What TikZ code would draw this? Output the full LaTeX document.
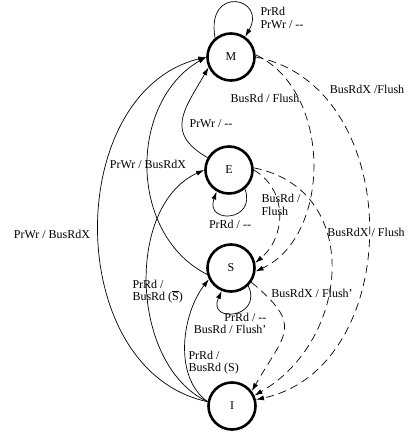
\documentclass[tikz,border=0pt]{standalone}
\usepackage{fontspec}
\setmainfont{Liberation Serif}
\usetikzlibrary{arrows.meta}

\begin{document}
\begin{tikzpicture}[x=1pt,y=1pt,>={Latex[length=8pt,width=5pt]},
  font=\fontsize{12}{12.5}\selectfont,
  state/.style={circle,draw,line width=2.6pt,minimum size=47pt,inner sep=0pt},
  move/.style={->,line width=0.7pt},
  snoop/.style={->,line width=0.7pt,dash pattern=on 8pt off 5pt}]
\useasboundingbox (0,0) rectangle (415,432);
% states
\node[state] (M) at (231,375) {M};
\node[state] (E) at (229,262) {E};
\node[state] (S) at (231,164) {S};
\node[state] (I) at (232,26) {I};
% processor side
\draw[move] (M.130) .. controls +(100:55) and +(60:45) .. (M.55);
\node[anchor=west,align=left] (lMM) at (257,414) {PrRd\\PrWr / {-}{-}};
\draw[move] (E.150) to[out=150,in=240,looseness=1.4] (M.205);
\node (lEM) at (211,308) {PrWr / {-}{-}};
\draw[move] (S.195) to[out=153,in=210,looseness=1.05] (M.180);
\node (lSM) at (148,268) {PrWr / BusRdX};
\draw[move] (I.170) to[out=168,in=194,looseness=1.1] (M.180);
\node (lIM) at (52,198) {PrWr / BusRdX};
\draw[move] (I.170) to[out=155,in=204,looseness=0.95] (E.180);
\node[anchor=west,align=left] (lIE) at (129,140.5)
  {PrRd /\\BusRd ($\overline{\mbox{S}}$)};
\draw[move] (I.170) to[out=144,in=232,looseness=0.9] (S.207);
\node[anchor=west,align=left] (lIS) at (185,69.5) {PrRd /\\BusRd (S)};
\draw[move] (E.310) .. controls +(-70:35) and +(-110:35) .. (E.240);
\node (lEE) at (230,208) {PrRd / {-}{-}};
\draw[move] (S.314) .. controls +(-65:36) and +(-115:36) .. (S.248);
\node[anchor=east,align=right] (lSS) at (270,108.5)
  {PrRd / {-}{-}\\BusRd / Flush'};
% bus side
\draw[snoop] (M.5) to[out=-25,in=25] (S.-8);
\node (lMS) at (265,334) {BusRd / Flush};
\draw[snoop] (M.0) to[out=-11,in=12,looseness=1.15] (I.15);
\node (lMI) at (367,343) {BusRdX /Flush};
\draw[snoop] (E.0) to[out=-30,in=40,looseness=1.1] (S.12);
\node[anchor=west,align=left] (lES) at (258,227) {BusRd /\\Flush};
\draw[snoop] (E.5) to[out=-11,in=30,looseness=1.25] (I.25);
\node (lEI) at (366,200) {BusRdX / Flush};
\draw[snoop] (S.-35) to[out=-40,in=60,looseness=1.6] (I.37);
\node (lSI) at (312,139) {BusRdX / Flush'};
\end{tikzpicture}
\end{document}
